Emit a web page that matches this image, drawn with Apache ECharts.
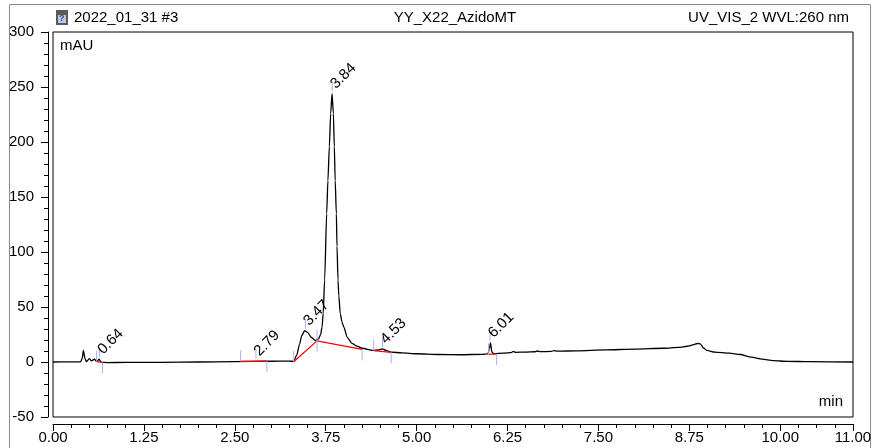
<!DOCTYPE html>
<html>
<head>
<meta charset="utf-8">
<script src="https://cdn.jsdelivr.net/npm/echarts@6/dist/echarts.min.js"></script>
<style>
  html, body { margin: 0; padding: 0; background: #fff; }
  #chart { width: 875px; height: 448px; }
</style>
</head>
<body>
<div id="chart"></div>
<script>
// Chromatogram trace: retention time (min) and absorbance (mAU)
const traceTime = [
  0.00, 0.20, 0.38, 0.40, 0.418, 0.44, 0.46, 0.50, 0.53, 0.57, 0.60, 0.635, 0.66, 0.75,
  1.00, 1.50, 2.00, 2.50, 3.00, 3.25, 3.31, 3.35, 3.39, 3.42, 3.46, 3.50, 3.55, 3.607,
  3.65, 3.68, 3.70, 3.715, 3.735, 3.763, 3.78, 3.80, 3.818, 3.837, 3.855, 3.868, 3.88,
  3.896, 3.905, 3.919, 3.93, 3.95, 3.975, 3.997, 4.05, 4.11, 4.18, 4.25, 4.40, 4.47,
  4.53, 4.58, 4.65, 4.80, 5.00, 5.30, 5.60, 5.90, 5.98, 6.00, 6.015, 6.035, 6.06, 6.20,
  6.30, 6.33, 6.36, 6.50, 6.63, 6.66, 6.70, 6.85, 6.89, 6.93, 7.20, 7.60, 8.00, 8.40,
  8.60, 8.72, 8.80, 8.86, 8.90, 8.95, 8.99, 9.10, 9.30, 9.45, 9.60, 9.75, 9.90, 10.10,
  10.40, 11.00
];
const traceValue = [
  0.0, 0.1, 0.2, 3.0, 10.5, 3.0, 0.3, 3.0, 1.0, 2.5, 0.5, 2.5, -0.3, -0.5,
  -0.4, -0.3, 0.0, 0.3, 0.7, 0.8, 0.6, 6.0, 16.0, 24.0, 28.5, 27.0, 22.5, 19.5,
  21.0, 25.0, 32.0, 44.0, 74.5, 135.0, 165.0, 196.0, 226.0, 244.0, 226.0, 196.0, 165.0,
  135.0, 105.0, 74.5, 60.0, 44.0, 36.0, 32.0, 22.0, 17.0, 14.5, 12.5, 10.5, 11.0,
  12.0, 10.5, 9.0, 8.3, 7.5, 6.8, 6.6, 7.0, 7.3, 12.0, 17.5, 9.0, 7.5, 8.0,
  8.6, 9.7, 8.8, 9.0, 9.3, 10.0, 9.4, 9.6, 10.4, 9.8, 10.2, 11.0, 11.7, 12.5,
  13.3, 14.3, 15.6, 16.8, 16.5, 12.5, 10.5, 9.0, 8.0, 6.8, 4.5, 2.6, 1.2, 0.6,
  0.3, 0.0
];

// Integrated peaks: apex retention time and apex height
const peakTimes = [0.64, 2.79, 3.47, 3.84, 4.53, 6.01];
const peakHeights = [2.5, 1.0, 28.5, 244.0, 12.0, 17.5];

// Integration baselines (time, value) per peak group
const baselineTimes = [[0.60, 0.68], [2.58, 2.94], [3.31, 3.63, 4.25], [4.41, 4.65], [5.99, 6.10]];
const baselineValues = [[0.3, -0.3], [0.6, 0.8], [0.3, 19.2, 11.5], [10.3, 8.8], [7.0, 7.3]];

// Integration delimiters: time, baseline value, direction (1 up, -1 down, 0 both)
const delimTimes = [0.60, 0.68, 2.58, 2.94, 3.31, 3.63, 4.25, 4.41, 4.65, 5.99, 6.10];
const delimValues = [0.3, -0.3, 0.6, 0.8, 0.3, 19.2, 11.5, 10.3, 8.8, 7.0, 7.3];
const delimDirs = [1, -1, 1, -1, 1, 0, -1, 1, -1, 1, -1];

// Axis ticks
const xTicks = ['0.00', '1.25', '2.50', '3.75', '5.00', '6.25', '7.50', '8.75', '10.00', '11.00'];
const yTicks = ['-50', '0', '50', '100', '150', '200', '250', '300'];

const FONT = '"Liberation Sans", Arial, sans-serif';
const MARK_BLUE = '#aab0f2';

const traceData = traceTime.map((t, i) => [t, traceValue[i]]);

const baselineSeries = baselineTimes.map((ts, k) => ({
  type: 'line',
  data: ts.map((t, i) => [t, baselineValues[k][i]]),
  showSymbol: false,
  lineStyle: { color: '#ff0000', width: 1.3 },
  z: 4,
  silent: true
}));

const chart = echarts.init(document.getElementById('chart'), null, { renderer: 'canvas' });

chart.setOption({
  animation: false,
  backgroundColor: '#ffffff',
  textStyle: { fontFamily: FONT },
  grid: {
    left: 53, right: 22, top: 32, bottom: 31,
    show: true, borderColor: '#000', borderWidth: 1, backgroundColor: 'transparent'
  },
  xAxis: {
    type: 'value', min: 0, max: 11, interval: 1.25, offset: 7,
    axisLine: { show: true, onZero: false, lineStyle: { color: '#000', width: 1 } },
    axisTick: { show: true, inside: false, length: 7, lineStyle: { color: '#000' } },
    minorTick: { show: true, splitNumber: 5, length: 4, lineStyle: { color: '#000' } },
    axisLabel: {
      color: '#000', fontSize: 15, fontFamily: FONT, margin: 6,
      showMaxLabel: true, showMinLabel: true,
      formatter: v => {
        const s = v.toFixed(2);
        return xTicks.includes(s) ? s : '';
      }
    },
    splitLine: { show: false }
  },
  yAxis: {
    type: 'value', min: -50, max: 300, interval: 50, offset: 5,
    axisLine: { show: true, onZero: false, lineStyle: { color: '#000', width: 1 } },
    axisTick: { show: true, inside: false, length: 7, lineStyle: { color: '#000' } },
    minorTick: { show: true, splitNumber: 5, length: 4, lineStyle: { color: '#000' } },
    axisLabel: {
      color: '#000', fontSize: 15, fontFamily: FONT, margin: 14,
      formatter: v => {
        const s = String(Math.round(v));
        return yTicks.includes(s) ? s : '';
      }
    },
    splitLine: { show: false }
  },
  graphic: [
    { type: 'rect', left: 7, top: 2, shape: { width: 861, height: 444 },
      style: { fill: 'none', stroke: '#8a8a8a', lineWidth: 1 }, silent: true },
    { type: 'rect', left: 56, top: 10, shape: { width: 12, height: 15 },
      style: { fill: '#5a5a5a' }, silent: true },
    { type: 'rect', left: 58, top: 15, shape: { width: 8, height: 8 },
      style: { fill: '#b9c8dc' }, silent: true },
    { type: 'text', left: 59, top: 14, silent: true,
      style: { text: '?', fontSize: 9, fontWeight: 'bold', fill: '#2a4f9a', fontFamily: FONT } },
    { type: 'text', left: 74, top: 10, silent: true,
      style: { text: '2022_01_31 #3', fontSize: 15, fill: '#000', fontFamily: FONT } },
    { type: 'text', x: 455, y: 18, silent: true,
      style: { text: 'YY_X22_AzidoMT', fontSize: 15, fill: '#000', fontFamily: FONT,
               align: 'center', verticalAlign: 'middle' } },
    { type: 'text', right: 26, top: 10, silent: true,
      style: { text: 'UV_VIS_2 WVL:260 nm', fontSize: 15, fill: '#000', fontFamily: FONT } },
    { type: 'text', left: 60, top: 38, silent: true,
      style: { text: 'mAU', fontSize: 15, fill: '#000', fontFamily: FONT } },
    { type: 'text', right: 32, top: 394, silent: true,
      style: { text: 'min', fontSize: 15, fill: '#000', fontFamily: FONT } }
  ],
  series: [
    {
      type: 'line',
      data: traceData,
      showSymbol: false,
      smooth: 0.25,
      smoothMonotone: 'x',
      lineStyle: { color: '#000', width: 1.3 },
      z: 3,
      silent: true
    },
    ...baselineSeries,
    {
      // integration delimiter ticks
      type: 'custom',
      coordinateSystem: 'cartesian2d',
      data: delimTimes.map((t, i) => [t, delimValues[i], delimDirs[i]]),
      encode: { x: 0, y: 1 },
      z: 5,
      silent: true,
      renderItem: (params, api) => {
        const p = api.coord([api.value(0), api.value(1)]);
        const d = api.value(2);
        const y1 = d === -1 ? p[1] : p[1] - 11;
        const y2 = d === 1 ? p[1] : p[1] + 11;
        return {
          type: 'line',
          shape: { x1: p[0], y1: y1, x2: p[0], y2: y2 },
          style: { stroke: MARK_BLUE, lineWidth: 1 }
        };
      }
    },
    {
      // peak apex markers and retention-time labels
      type: 'custom',
      coordinateSystem: 'cartesian2d',
      data: peakTimes.map((t, i) => [t, peakHeights[i]]),
      encode: { x: 0, y: 1 },
      z: 6,
      silent: true,
      renderItem: (params, api) => {
        const t = api.value(0);
        const p = api.coord([t, api.value(1)]);
        return {
          type: 'group',
          children: [
            { type: 'line', shape: { x1: p[0], y1: p[1] - 2, x2: p[0], y2: p[1] - 12 },
              style: { stroke: MARK_BLUE, lineWidth: 1 } },
            { type: 'text', x: p[0] + 6, y: p[1] - 2, rotation: Math.PI / 4,
              style: { text: t.toFixed(2), fontSize: 15, fontFamily: FONT, fill: '#000',
                       align: 'left', verticalAlign: 'bottom' } }
          ]
        };
      }
    }
  ]
});
</script>
</body>
</html>
